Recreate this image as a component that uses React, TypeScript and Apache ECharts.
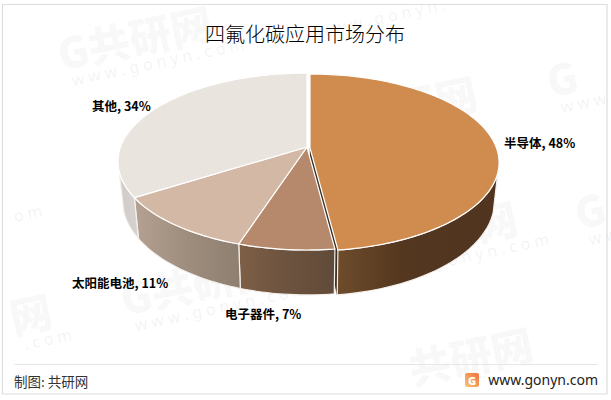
import React, { useEffect, useRef } from "react";
import * as echarts from "echarts";

const categories = ["半导体", "电子器件", "太阳能电池", "其他"];
const shares = [48, 7, 11, 34];
const topColors = ["#D08B4E", "#B6896C", "#D2B8A5", "#EAE4DF"];
const wallColors = [
  ["#6E4C2C", "#54371F", "#50341F"],
  ["#7E5F47", "#705540", "#604A39"],
  ["#B5A191", "#A29080", "#8E7F70"],
  ["#CFCBC8", "#D2CECB", "#D6D2CF"],
];
const offsets = [[3, 1], [0, 0], [0, 0], [0, 0]];
const labelPos = [[504, 142], [225, 313], [72, 282], [92, 105]];
const WWW = "w w w . g o n y n . c o m";
const watermarks: [number, number, string, string][] = [
  [62, 73, "G共研网", WWW],
  [307, 24, "", "w w w . g o n y n ."],
  [551, 100, "G", "w w w"],
  [327, 143, "G共研网", ""],
  [367, 268, "G共研网", WWW],
  [125, 318, "G共研网", WWW],
  [14, 337, "网", ". c o m"],
  [4, 209, "", "o m"],
  [413, 388, "共研网", ""],
  [579, 232, "G", "w w"],
];

const CX = 307, CY = 147, RX = 186.5, RY = 86.1, K = 0.164;
const DEPTH = 37.4, SX = 0.976, SY = 1.073;
const HIDE_R = 106, HIDE_L = 254;
const PCT = 3.6;

function starts(i: number) {
  let a = 0;
  for (let j = 0; j < i; j++) a += shares[j];
  return a * PCT;
}
function rim(deg: number, lower: boolean, dx: number, dy: number) {
  const t = (deg * Math.PI) / 180;
  const u = Math.sin(t), v = -Math.cos(t);
  const d = 1 - K * v;
  const sx = lower ? SX : 1, sy = lower ? SY : 1, off = lower ? DEPTH : 0;
  return [CX + dx + (sx * RX * u) / d, CY + dy + off + (sy * RY * v) / d];
}
function arc(a: number, b: number, lower: boolean, dx: number, dy: number) {
  const n = Math.max(2, Math.ceil(Math.abs(b - a) / 1.5));
  const pts: number[][] = [];
  for (let i = 0; i <= n; i++) pts.push(rim(a + ((b - a) * i) / n, lower, dx, dy));
  return pts;
}

function renderFace(params: any) {
  const i = params.dataIndex;
  if (i !== 0) return { type: "group", children: [] };
  const [dx, dy] = offsets[i];
  const end = starts(1);
  const p = rim(end, false, dx, dy), q = rim(end, true, dx, dy);
  return {
    type: "polygon",
    shape: { points: [[CX + dx, CY + dy], p, q, [CX + dx, CY + dy + DEPTH]] },
    style: { fill: "#3E3024", stroke: "#3E3024", lineWidth: 0.5 },
  };
}
function renderWall(params: any) {
  const i = params.dataIndex;
  const [dx, dy] = offsets[i];
  const a = Math.max(starts(i), HIDE_R);
  const b = Math.min(starts(i + 1), HIDE_L);
  if (b <= a) return { type: "group", children: [] };
  return {
    type: "polygon",
    shape: { points: [...arc(a, b, false, dx, dy), ...arc(b, a, true, dx, dy)] },
    style: {
      fill: new echarts.graphic.LinearGradient(1, 0, 0, 0, [
        { offset: 0, color: wallColors[i][2] },
        { offset: 0.6, color: wallColors[i][1] },
        { offset: 1, color: wallColors[i][0] },
      ]),
      stroke: "#F4F0EC",
      lineWidth: 1.2,
      lineJoin: "round",
    },
  };
}
function renderTop(params: any) {
  const i = params.dataIndex;
  const [dx, dy] = offsets[i];
  return {
    type: "polygon",
    shape: { points: [[CX + dx, CY + dy], ...arc(starts(i), starts(i + 1), false, dx, dy)] },
    style: { fill: topColors[i], stroke: "#FFFFFF", lineWidth: 1.2, lineJoin: "round" },
  };
}

const labelFont = '"Noto Sans CJK SC", "Noto Sans", sans-serif';
const WM_FILL = "rgba(150,150,150,0.075)";

export default function App() {
  const ref = useRef<HTMLDivElement>(null);
  useEffect(() => {
    document.body.style.margin = "0";
    document.body.style.background = "#fff";
    const chart = echarts.init(ref.current!, undefined, { renderer: "svg" });
    const series = [renderFace, renderWall, renderTop].map((fn, k) => ({
      type: "custom" as const,
      coordinateSystem: "none",
      renderItem: fn,
      data: shares,
      z: 2 + k,
      silent: true,
      clip: false,
    }));
    const wm = watermarks.map(([x, y, main, site]) => ({
      type: "group",
      x,
      y,
      rotation: 0.21,
      z: 20,
      silent: true,
      children: [
        ...(main
          ? [{ type: "text", x: 0, y: 0, style: { text: main, font: `900 42px ${labelFont}`, fill: WM_FILL, verticalAlign: "bottom" } }]
          : []),
        ...(site
          ? [{ type: "text", x: 8, y: 9, style: { text: site, font: `400 16px "Noto Sans", sans-serif`, fill: "rgba(150,150,150,0.12)", verticalAlign: "middle" } }]
          : []),
      ],
    }));
    chart.setOption({
      animation: false,
      backgroundColor: "#fff",
      series,
      graphic: [
        { type: "rect", shape: { x: 2.5, y: 4.5, width: 604.5, height: 389.5 }, style: { fill: "none", stroke: "#DCDCDC", lineWidth: 1.2 }, z: 1 },
        ...wm,
        {
          type: "text", x: 305, y: 33, z: 30,
          style: { text: "四氟化碳应用市场分布", font: `300 20px ${labelFont}`, fill: "#000", align: "center", verticalAlign: "middle" },
        },
        ...categories.map((c, i) => ({
          type: "text", x: labelPos[i][0], y: labelPos[i][1], z: 30,
          style: { text: `${c}, ${shares[i]}%`, font: `700 12.5px ${labelFont}`, fill: "#000", align: "left", verticalAlign: "middle" },
        })),
        { type: "line", shape: { x1: 14.5, y1: 364.5, x2: 598, y2: 364.5 }, style: { stroke: "#E6E6E6", lineWidth: 1 }, z: 5 },
        {
          type: "text", x: 14, y: 381, z: 30,
          style: { text: "制图: 共研网", font: `400 13.5px ${labelFont}`, fill: "#333", align: "left", verticalAlign: "middle" },
        },
        {
          type: "rect", shape: { x: 465, y: 373, width: 14, height: 14, r: 2 }, z: 30,
          style: { fill: new echarts.graphic.LinearGradient(0, 1, 1, 0, [{ offset: 0, color: "#F8C66E" }, { offset: 1, color: "#F0703F" }]) },
        },
        {
          type: "text", x: 472, y: 380, z: 31,
          style: { text: "G", font: `900 11px "Noto Sans", sans-serif`, fill: "#fff", align: "center", verticalAlign: "middle" },
        },
        {
          type: "text", x: 598, y: 379, z: 30,
          style: { text: "www.gonyn.com", font: `400 14px "Noto Sans", sans-serif`, fill: "#222", align: "right", verticalAlign: "middle" },
        },
      ],
    });
    return () => chart.dispose();
  }, []);
  return <div ref={ref} style={{ width: 611, height: 400 }} />;
}
